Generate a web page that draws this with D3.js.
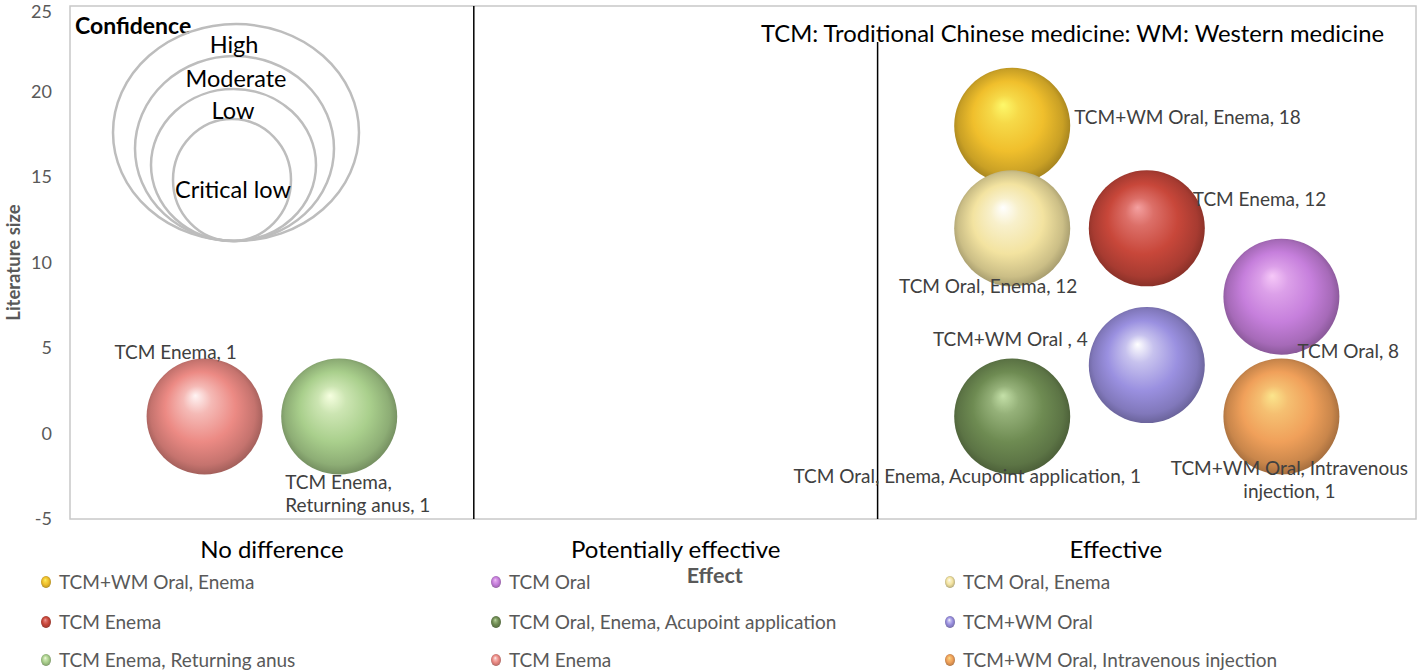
<!DOCTYPE html>
<html>
<head>
<meta charset="utf-8">
<script src="https://cdn.jsdelivr.net/npm/d3@7"></script>
<style>
  html, body { margin: 0; padding: 0; background: #fff; }
  svg { display: block; font-family: "Lato", "Liberation Sans", sans-serif; }
</style>
</head>
<body>
<svg id="chart" width="1418" height="671"></svg>
<script>
// ---------------- data ----------------
const categories = ["No difference", "Potentially effective", "Effective"];
const categoryX = [1.5, 4.5, 7.77];
const dividerX = [3, 6];
const yTicks = [-5, 0, 5, 10, 15, 20, 25];

const seriesNames = [
  "TCM+WM Oral, Enema",
  "TCM Oral",
  "TCM Oral, Enema",
  "TCM Enema",
  "TCM Oral, Enema, Acupoint application",
  "TCM+WM Oral",
  "TCM Enema, Returning anus",
  "TCM Enema",
  "TCM+WM Oral, Intravenous injection"
];
const seriesX = [7, 9, 7, 8, 7, 8, 2, 1, 9];
const seriesY = [18, 8, 12, 12, 1, 4, 1, 1, 1];
const seriesSize = [1, 1, 1, 1, 1, 1, 1, 1, 1];
const labelLines = [
  ["TCM+WM Oral, Enema, 18"],
  ["TCM Oral, 8"],
  ["TCM Oral, Enema, 12"],
  ["TCM Enema, 12"],
  ["TCM Oral, Enema, Acupoint application, 1"],
  ["TCM+WM Oral , 4"],
  ["TCM Enema,", "Returning anus, 1"],
  ["TCM Enema, 1"],
  ["TCM+WM Oral, Intravenous", "injection, 1"]
];
const confidenceLevels = ["High", "Moderate", "Low", "Critical low"];
const noteText = "TCM: Troditional Chinese medicine: WM: Western medicine";

// ---------------- styles ----------------
const baseColors = ["#f0bf2c", "#c67fdc", "#f3e3a0", "#c8473a", "#6e8b52", "#9a90e0", "#a9cf8c", "#ec8a84", "#f0a05a"];
const lightColors = ["#fdf86a", "#f6c8f8", "#ffffff", "#f4a0a0", "#c4e0a8", "#ffffff", "#f6ffe0", "#fff4f4", "#fbe58c"];
const labelPos = [ // [dx, dy, anchor] relative to bubble centre (px)
  [62, -8, "start"], [16, 55, "start"], [-24, 59, "middle"], [46, -28, "start"],
  [-45, 61, "middle"], [-59, -25, "end"], [-54, 67, "start"], [-29, -63, "middle"], [8, 53, "middle"]
];

// ---------------- layout ----------------
const svg = d3.select("#chart");
const plot = { left: 70, right: 1416, top: 6, bottom: 519 };

const x = d3.scaleLinear().domain([0, 10]).range([plot.left, plot.right]);
const y = d3.scaleLinear().domain([-5, 25]).range([plot.bottom, plot.top]);
const r = d3.scaleSqrt().domain([0, 1]).range([0, 58]);

// gradients
const defs = svg.append("defs");
baseColors.forEach((c, i) => {
  const g = defs.append("radialGradient").attr("id", "sph" + i)
    .attr("cx", "0.5").attr("cy", "0.5").attr("r", "0.55")
    .attr("fx", "0.42").attr("fy", "0.32");
  const dark = d3.color(c).darker(1.4);
  g.append("stop").attr("offset", "0%").attr("stop-color", lightColors[i]);
  g.append("stop").attr("offset", "22%").attr("stop-color", d3.interpolateRgb(lightColors[i], c)(0.55));
  g.append("stop").attr("offset", "55%").attr("stop-color", c);
  g.append("stop").attr("offset", "82%").attr("stop-color", d3.color(c).darker(0.5));
  g.append("stop").attr("offset", "100%").attr("stop-color", dark);
});

// plot border
svg.append("rect")
  .attr("x", plot.left).attr("y", plot.top)
  .attr("width", plot.right - plot.left).attr("height", plot.bottom - plot.top)
  .attr("fill", "none").attr("stroke", "#c8c8c8").attr("stroke-width", 1.5);

// y axis (labels only)
const yAxis = d3.axisLeft(y).tickValues(yTicks).tickSize(0).tickPadding(18).tickFormat(d => String(d));
const gy = svg.append("g").attr("transform", `translate(${plot.left},0)`).call(yAxis);
gy.select(".domain").remove();
gy.selectAll("text").attr("fill", "#595959").style("font-size", "18px")
  .style("font-family", "Lato, 'Liberation Sans', sans-serif");
gy.selectAll(".tick").filter(d => d === 25).select("text").attr("dy", "0.62em");

svg.append("text")
  .attr("transform", `translate(19.5,${y(10)}) rotate(-90)`)
  .attr("text-anchor", "middle")
  .attr("fill", "#595959").style("font-size", "18.5px").style("font-weight", "bold")
  .text("Literature size");

// dividers
svg.selectAll("line.div").data(dividerX).enter().append("line")
  .attr("class", "div")
  .attr("x1", d => x(d)).attr("x2", d => x(d))
  .attr("y1", (d, i) => i === 0 ? plot.top : 42).attr("y2", plot.bottom)
  .attr("stroke", "#000").attr("stroke-width", 1.5);

// note
svg.append("text").attr("x", 1384).attr("y", 42).attr("text-anchor", "end")
  .attr("fill", "#000").style("font-size", "23.8px").text(noteText);

// confidence legend
svg.append("text").attr("x", 75).attr("y", 34)
  .attr("fill", "#000").style("font-size", "23px").style("font-weight", "bold").text("Confidence");
const conf = [
  { cx: 236, cy: 132.5, rx: 123, ry: 108.5 },
  { cx: 234.5, cy: 148.5, rx: 99.5, ry: 92.5 },
  { cx: 233.5, cy: 165, rx: 82.5, ry: 76 },
  { cx: 232, cy: 180, rx: 59, ry: 61 }
];
svg.selectAll("ellipse.conf").data(conf).enter().append("ellipse")
  .attr("class", "conf")
  .attr("cx", d => d.cx).attr("cy", d => d.cy).attr("rx", d => d.rx).attr("ry", d => d.ry)
  .attr("fill", "none").attr("stroke", "#bdbdbd").attr("stroke-width", 2.5);
const confTextPos = [[234, 53], [236, 87], [233, 119], [233, 198]];
svg.selectAll("text.conf").data(confidenceLevels).enter().append("text")
  .attr("class", "conf")
  .attr("x", (d, i) => confTextPos[i][0]).attr("y", (d, i) => confTextPos[i][1])
  .attr("text-anchor", "middle").attr("fill", "#000").style("font-size", "23.5px")
  .text(d => d);

// bubbles
const pts = seriesNames.map((n, i) => ({ i, name: n, x: seriesX[i], y: seriesY[i], s: seriesSize[i] }));
svg.selectAll("circle.bub").data(pts).enter().append("circle")
  .attr("class", "bub")
  .attr("cx", d => x(d.x)).attr("cy", d => y(d.y)).attr("r", d => r(d.s))
  .attr("fill", d => `url(#sph${d.i})`);

// data labels
pts.forEach(d => {
  const p = labelPos[d.i];
  const t = svg.append("text")
    .attr("text-anchor", p[2]).attr("fill", "#404040").style("font-size", "19px");
  labelLines[d.i].forEach((ln, k) => {
    t.append("tspan").attr("x", x(d.x) + p[0]).attr("y", y(d.y) + p[1] + 6 + k * 23).text(ln);
  });
});

// category labels
svg.selectAll("text.cat").data(categories).enter().append("text")
  .attr("class", "cat")
  .attr("x", (d, i) => x(categoryX[i])).attr("y", 558)
  .attr("text-anchor", "middle").attr("fill", "#000").style("font-size", "24px")
  .text(d => d);
svg.append("text").attr("x", x(4.79)).attr("y", 583).attr("text-anchor", "middle")
  .attr("fill", "#595959").style("font-size", "21.5px").style("font-weight", "bold").text("Effect");

// legend
const legCols = [46, 496, 950];
const legRows = [582, 622, 660];
const leg = svg.selectAll("g.leg").data(pts).enter().append("g")
  .attr("class", "leg")
  .attr("transform", (d, k) => `translate(${legCols[k % 3]},${legRows[Math.floor(k / 3)]})`);
leg.append("ellipse").attr("rx", 5).attr("ry", 6)
  .attr("fill", d => `url(#sph${d.i})`);
leg.append("text").attr("x", 13).attr("y", 6.5)
  .attr("fill", "#595959").style("font-size", "19px").text(d => d.name);
</script>
</body>
</html>
